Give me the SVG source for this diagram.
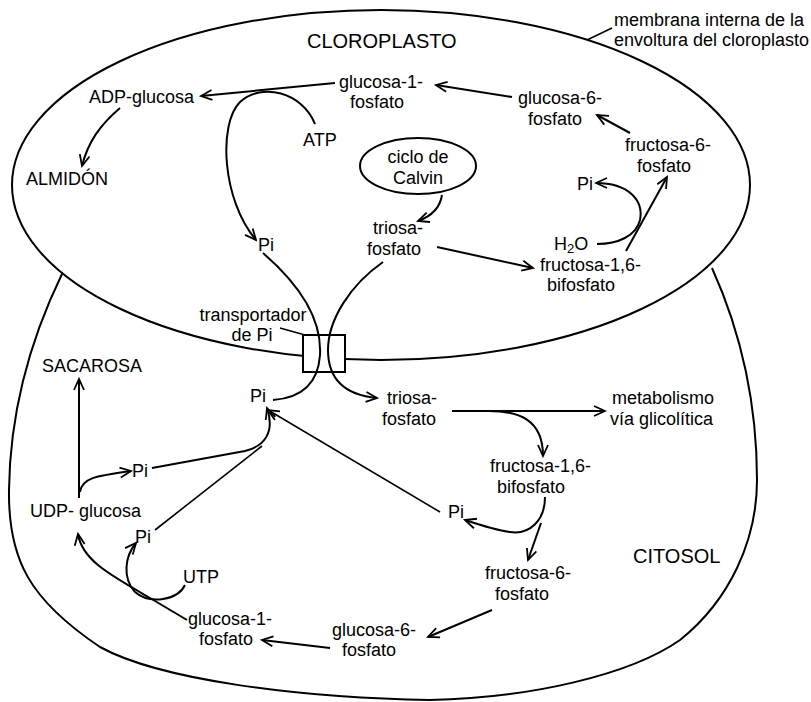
<svg xmlns="http://www.w3.org/2000/svg" width="811" height="702" viewBox="0 0 811 702">
  <defs>
    <style>
      text { font-family: "Liberation Sans", Arial, sans-serif; font-size: 18px; fill: #000; }
      .title { font-size: 20px; }
      .mem { fill: none; stroke: #000; stroke-width: 2; }
      .con { fill: none; stroke: #000; stroke-width: 2; }
      .thin { fill: none; stroke: #000; stroke-width: 1.6; }
    </style>
    <marker id="arr" markerUnits="userSpaceOnUse" markerWidth="14" markerHeight="14" viewBox="0 0 14 14" refX="12" refY="6" orient="auto">
      <path d="M1,1 L12,6 L1,11" fill="none" stroke="#000" stroke-width="1.8"/>
    </marker>
  </defs>
  <rect width="811" height="702" fill="#fff"/>

  <!-- membranes -->
  <g id="membranes">
    <path id="cytosol-boundary" class="mem" d="M62,274 C30,340 10,410 9,490 C8,560 30,600 100,647 C160,680 300,698 430,700 C530,698 630,675 680,640 C730,600 757,540 757,480 C757,400 740,330 712,268"/>
    <ellipse id="chloroplast-envelope" class="mem" cx="381" cy="185" rx="369" ry="175"/>
    <line class="thin" x1="587" y1="40" x2="612" y2="28"/>
    <line class="thin" x1="280" y1="328" x2="305" y2="335"/>
    <rect id="transporter" x="303" y="335" width="42" height="37" fill="#fff" stroke="#000" stroke-width="2"/>
  </g>

  <!-- Calvin cycle -->
  <g id="calvin">
    <ellipse cx="418" cy="166" rx="58" ry="28" fill="none" stroke="#000" stroke-width="2"/>
    <text x="418" y="163" text-anchor="middle">ciclo de</text>
    <text x="418" y="184" text-anchor="middle">Calvin</text>
  </g>

  <!-- connectors -->
  <g id="connectors">
    <!-- chloroplast -->
    <path class="con" d="M335,83 L201,96" marker-end="url(#arr)"/>
    <path class="con" d="M315,124 C302,92 262,82 240,102 C218,124 222,200 256,240" marker-end="url(#arr)"/>
    <path class="con" d="M120,108 C100,125 88,142 82,166" marker-end="url(#arr)"/>
    <path class="con" d="M512,97 L436,85" marker-end="url(#arr)"/>
    <path class="con" d="M630,133 L597,115" marker-end="url(#arr)"/>
    <path class="con" d="M442,195 C440,208 432,216 418,221" marker-end="url(#arr)"/>
    <path class="con" d="M437,247 L533,268" marker-end="url(#arr)"/>
    <path class="con" d="M626,251 L667,177" marker-end="url(#arr)"/>
    <path class="con" d="M597,244 C618,244 636,236 640,220 C644,200 628,183 596,183" marker-end="url(#arr)"/>
    <!-- through the transporter -->
    <path class="con" d="M263,253 C300,285 322,320 320,355 C318,385 300,398 273,400"/>
    <path class="con" d="M383,262 C350,285 328,320 328,350 C328,380 345,395 377,398" marker-end="url(#arr)"/>
    <!-- cytosol -->
    <path class="con" d="M452,411 L605,411" marker-end="url(#arr)"/>
    <path class="con" d="M483,411 C520,410 543,420 543,456" marker-end="url(#arr)"/>
    <path class="con" d="M545,497 C545,520 530,535 510,532 C495,530 480,525 465,520" marker-end="url(#arr)"/>
    <path class="con" d="M541,523 L528,560" marker-end="url(#arr)"/>
    <path class="con" d="M492,610 L428,637" marker-end="url(#arr)"/>
    <path class="con" d="M330,648 L262,640" marker-end="url(#arr)"/>
    <path class="con" d="M187,620 L150,598 C110,575 82,560 78,534" marker-end="url(#arr)"/>
    <path class="con" d="M185,585 C178,600 150,605 135,592 C122,578 125,556 136,543" marker-end="url(#arr)"/>
    <path class="con" d="M79,498 L79,379" marker-end="url(#arr)"/>
    <path class="con" d="M80,492 C82,478 95,476 131,471" marker-end="url(#arr)"/>
    <path class="con" d="M152,468 L245,451 C265,446 275,432 267,408" marker-end="url(#arr)"/>
    <path class="thin" d="M155,530 L262,446"/>
    <path class="thin" d="M440,512 L268,410" marker-end="url(#arr)"/>
  </g>

  <!-- labels -->
  <g id="label-membrane">
    <text x="614" y="26">membrana interna de la</text>
    <text x="614" y="46">envoltura del cloroplasto</text>
  </g>
  <g id="label-cloroplasto"><text class="title" x="307" y="48">CLOROPLASTO</text></g>
  <g id="label-citosol"><text class="title" x="633" y="563">CITOSOL</text></g>

  <g id="g1p-chl">
    <text x="339" y="88">glucosa-1-</text>
    <text x="350" y="108">fosfato</text>
  </g>
  <g id="adp-glucosa"><text x="89" y="103">ADP-glucosa</text></g>
  <g id="almidon"><text x="26" y="185">ALMIDÓN</text></g>
  <g id="atp"><text x="303" y="146">ATP</text></g>
  <g id="pi-chl"><text x="258" y="251">Pi</text></g>
  <g id="triosa-chl">
    <text x="373" y="234">triosa-</text>
    <text x="367" y="255">fosfato</text>
  </g>
  <g id="g6p-chl">
    <text x="518" y="104">glucosa-6-</text>
    <text x="528" y="125">fosfato</text>
  </g>
  <g id="f6p-chl">
    <text x="625" y="151">fructosa-6-</text>
    <text x="637" y="172">fosfato</text>
  </g>
  <g id="pi-chl-2"><text x="577" y="190">Pi</text></g>
  <g id="h2o"><text x="554" y="250">H<tspan font-size="13" dy="3">2</tspan><tspan dy="-3">O</tspan></text></g>
  <g id="fbp-chl">
    <text x="540" y="271">fructosa-1,6-</text>
    <text x="547" y="291">bifosfato</text>
  </g>
  <g id="transportador">
    <text x="253" y="321" text-anchor="middle">transportador</text>
    <text x="252" y="341" text-anchor="middle">de Pi</text>
  </g>

  <g id="sacarosa"><text x="42" y="372">SACAROSA</text></g>
  <g id="pi-cyt-1"><text x="250" y="402">Pi</text></g>
  <g id="triosa-cyt">
    <text x="387" y="404">triosa-</text>
    <text x="382" y="425">fosfato</text>
  </g>
  <g id="metabolismo">
    <text x="612" y="404">metabolismo</text>
    <text x="610" y="425">vía glicolítica</text>
  </g>
  <g id="fbp-cyt">
    <text x="490" y="472">fructosa-1,6-</text>
    <text x="497" y="493">bifosfato</text>
  </g>
  <g id="pi-cyt-2"><text x="448" y="518">Pi</text></g>
  <g id="f6p-cyt">
    <text x="485" y="579">fructosa-6-</text>
    <text x="495" y="600">fosfato</text>
  </g>
  <g id="g6p-cyt">
    <text x="332" y="636">glucosa-6-</text>
    <text x="342" y="656">fosfato</text>
  </g>
  <g id="g1p-cyt">
    <text x="188" y="625">glucosa-1-</text>
    <text x="199" y="645">fosfato</text>
  </g>
  <g id="utp"><text x="183" y="583">UTP</text></g>
  <g id="pi-cyt-3"><text x="135" y="543">Pi</text></g>
  <g id="udp-glucosa"><text x="30" y="517">UDP- glucosa</text></g>
  <g id="pi-cyt-4"><text x="132" y="477">Pi</text></g>
</svg>
